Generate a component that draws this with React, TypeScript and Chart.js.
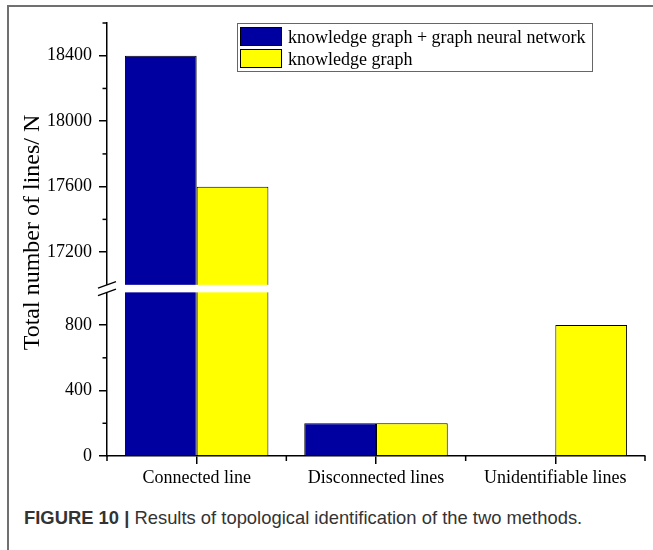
import React, { useEffect, useRef } from 'react';
import { Chart, registerables } from 'chart.js';

Chart.register(...registerables);

// ---- data ----
const categories = ['Connected line', 'Disconnected lines', 'Unidentifiable lines'];
const seriesNames = ['knowledge graph + graph neural network', 'knowledge graph'];
const kgGnnValues = [18400, 200, 0];
const kgValues = [17600, 200, 800];
const seriesColors = ['#0000A0', '#FFFF00'];

// broken axis: upper and lower value ranges
const upperRange = [16977, 18600];
const lowerRange = [0, 1023];
const upperBreakValue = 17000;
const lowerBreakValue = 1000;
const upperTickLabels = [17200, 17600, 18000, 18400];
const upperMinorTicks = [17400, 17800, 18200, 18600];
const lowerTickLabels = [0, 400, 800];
const lowerMinorTicks = [200, 600];

const yTitle = 'Total number of lines/ N';
const captionBold = 'FIGURE 10 |';
const captionText = ' Results of topological identification of the two methods.';

const SERIF = "'Liberation Serif', 'Times New Roman', serif";

const clipPlugin = {
  id: 'clipPerScale',
  beforeDatasetDraw(chart: any, args: any) {
    const ys = args.meta.vScale;
    const ca = chart.chartArea;
    const ctx = chart.ctx;
    ctx.save();
    ctx.beginPath();
    ctx.rect(ca.left, ys.top, ca.right - ca.left, ys.bottom - ys.top);
    ctx.clip();
  },
  afterDatasetDraw(chart: any) {
    chart.ctx.restore();
  },
};

const decorPlugin = {
  id: 'decor',
  afterDraw(chart: any) {
    const ctx = chart.ctx;
    const ca = chart.chartArea;
    const top = chart.scales.yTop;
    const bot = chart.scales.yBottom;
    const x = chart.scales.x;
    ctx.save();
    // minor ticks on y
    ctx.strokeStyle = '#000';
    ctx.lineWidth = 1.5;
    const left = ca.left;
    const drawH = (y: number, len: number) => {
      ctx.beginPath();
      ctx.moveTo(left - len, y);
      ctx.lineTo(left, y);
      ctx.stroke();
    };
    upperMinorTicks.forEach((v) => drawH(top.getPixelForValue(v), 4.5));
    lowerMinorTicks.forEach((v) => drawH(bot.getPixelForValue(v), 4.5));
    // minor ticks on x at category boundaries
    const half = (x.getPixelForTick(1) - x.getPixelForTick(0)) / 2;
    const bounds = [x.getPixelForTick(0) - half, ...categories.map((_, i) => x.getPixelForTick(i) + half)];
    bounds.forEach((bx) => {
      ctx.beginPath();
      ctx.moveTo(bx, ca.bottom);
      ctx.lineTo(bx, ca.bottom + 5);
      ctx.stroke();
    });
    // axis break
    const y1 = top.getPixelForValue(upperBreakValue);
    const y2 = bot.getPixelForValue(lowerBreakValue);
    ctx.fillStyle = '#fff';
    ctx.fillRect(left - 3, y1, ca.right - left + 3, y2 - y1);
    ctx.lineWidth = 1.3;
    [y1, y2].forEach((yy) => {
      ctx.beginPath();
      ctx.moveTo(left - 9, yy + 3.3);
      ctx.lineTo(left + 9, yy - 3.3);
      ctx.stroke();
    });
    // y title
    ctx.translate(38.5, 232.5);
    ctx.rotate(-Math.PI / 2);
    ctx.fillStyle = '#000';
    ctx.font = `24px ${SERIF}`;
    ctx.textAlign = 'center';
    ctx.textBaseline = 'alphabetic';
    ctx.fillText(yTitle, 0, 0);
    ctx.restore();
  },
};

export default function App() {
  const canvasRef = useRef<HTMLCanvasElement | null>(null);

  useEffect(() => {
    document.body.style.margin = '0';
    const canvas = canvasRef.current;
    if (!canvas) return;

    const makeDs = (i: number, data: number[], axis: string) => ({
      label: seriesNames[i],
      data,
      backgroundColor: seriesColors[i],
      borderColor: '#000',
      borderWidth: 1,
      yAxisID: axis,
      stack: 's' + i,
      categoryPercentage: 0.8,
      barPercentage: 1,
    });

    const tickFont = { family: SERIF, size: 18 };
    const yCommon = (labels: number[]) => ({
      type: 'linear' as const,
      position: 'left' as const,
      stack: 'v',
      grid: { drawOnChartArea: false, drawTicks: true, tickLength: 8, color: '#000', lineWidth: 1.5 },
      border: { display: true, color: '#000', width: 1.5 },
      ticks: {
        font: tickFont,
        color: '#000',
        padding: 7,
        autoSkip: false,
        callback: (v: any) => String(v),
      },
      afterBuildTicks: (s: any) => {
        s.ticks = labels.map((v) => ({ value: v }));
      },
      afterFit: (s: any) => {
        s.width = 107;
      },
    });

    const chart = new Chart(canvas, {
      type: 'bar',
      data: {
        labels: categories,
        datasets: [
          makeDs(0, kgGnnValues, 'yTop'),
          makeDs(1, kgValues, 'yTop'),
          makeDs(0, kgGnnValues, 'yBottom'),
          makeDs(1, kgValues, 'yBottom'),
        ],
      },
      options: {
        animation: false,
        responsive: false,
        devicePixelRatio: 1,
        layout: { padding: { top: 23, right: 8, left: 0, bottom: 0 } },
        plugins: { legend: { display: false }, tooltip: { enabled: false } },
        scales: {
          x: {
            type: 'category',
            offset: true,
            grid: { offset: false, drawOnChartArea: false, drawTicks: true, tickLength: 8, color: '#000', lineWidth: 1.5 },
            border: { display: true, color: '#000', width: 1.5 },
            ticks: { font: tickFont, color: '#000', padding: 3, maxRotation: 0, autoSkip: false },
            afterFit: (s: any) => {
              s.height = 44;
            },
          },
          yTop: {
            ...yCommon(upperTickLabels),
            min: upperRange[0],
            max: upperRange[1],
            stackWeight: upperRange[1] - upperRange[0],
            weight: 1,
          },
          yBottom: {
            ...yCommon(lowerTickLabels),
            min: lowerRange[0],
            max: lowerRange[1],
            stackWeight: lowerRange[1] - lowerRange[0],
            weight: 0,
          },
        } as any,
      },
      plugins: [clipPlugin, decorPlugin],
    });
    return () => chart.destroy();
  }, []);

  const swatch = (i: number, top: number) => (
    <div
      style={{
        position: 'absolute',
        left: 240,
        top,
        width: 42,
        height: 19.5,
        boxSizing: 'border-box',
        border: '1px solid #000',
        background: seriesColors[i],
      }}
    />
  );
  const legendText = (i: number, top: number) => (
    <span
      style={{
        position: 'absolute',
        left: 288,
        top,
        fontFamily: SERIF,
        fontSize: 18,
        lineHeight: '18px',
        color: '#000',
        whiteSpace: 'nowrap',
      }}
    >
      {seriesNames[i]}
    </span>
  );

  return (
    <div style={{ position: 'relative', width: 653, height: 550, background: '#fff', overflow: 'hidden' }}>
      <div
        style={{
          position: 'absolute',
          left: 7,
          top: 5,
          right: -10,
          bottom: -10,
          borderTop: '2px solid #707070',
          borderLeft: '2px solid #707070',
        }}
      />
      <canvas ref={canvasRef} width={653} height={500} style={{ position: 'absolute', left: 0, top: 0 }} />
      <div
        style={{
          position: 'absolute',
          left: 237,
          top: 23,
          width: 356,
          height: 49,
          boxSizing: 'border-box',
          border: '1px solid #666',
        }}
      />
      {swatch(0, 26.5)}
      {swatch(1, 48.5)}
      {legendText(0, 28)}
      {legendText(1, 50)}
      <div
        style={{
          position: 'absolute',
          left: 24,
          top: 508.5,
          fontFamily: "'Liberation Sans', Arial, sans-serif",
          fontSize: 18.4,
          lineHeight: '18.4px',
          color: '#333',
          whiteSpace: 'nowrap',
        }}
      >
        <b>{captionBold}</b>
        {captionText}
      </div>
    </div>
  );
}
